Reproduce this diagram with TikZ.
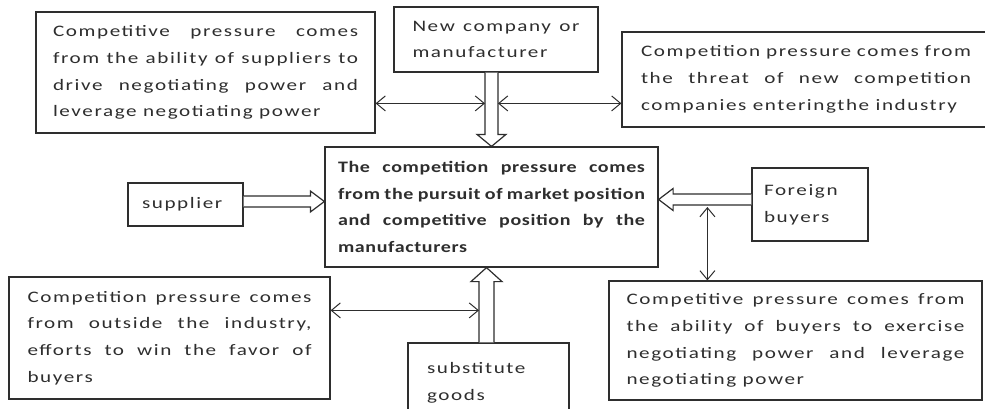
\documentclass[tikz,border=0pt]{standalone}
\usepackage{fontspec}
\usetikzlibrary{arrows.meta,calc}

\definecolor{ink}{HTML}{2E2E2E}

% wide, slightly tracked Calibri-like faces
\newfontfamily\bodyfam[FakeStretch=1.32,LetterSpace=10]{Carlito}
\newfontfamily\leadfam[FakeStretch=1.25,LetterSpace=4]{Carlito}
\newcommand\bodyfont{\bodyfam\fontsize{16}{26.7}\selectfont}
\newcommand\leadfont{\leadfam\bfseries\fontsize{16}{26.5}\selectfont}
% a line spread out to the full text width
\newcommand\spread[1]{\makebox[\hsize][s]{\spaceskip=0pt\relax\xspaceskip=0pt\relax #1}}

\tikzset{
  box/.style={draw=ink, line width=1.2pt, fill=white, inner sep=0pt,
              text=ink, font=\bodyfont, align=flush left},
  lead/.style={box, font=\leadfont},
  dbl/.style={draw=ink, line width=1pt,
              {Straight Barb[length=9pt,width=15pt]}-{Straight Barb[length=9pt,width=15pt]}},
  hollow/.style={draw=ink, line width=1.2pt, fill=white, line join=miter},
}

\begin{document}
\begin{tikzpicture}[x=1pt,y=-1pt]
\useasboundingbox (0,0) rectangle (985,408);
\clip (0,0) rectangle (985,408);
\fill[white] (0,0) rectangle (985,408);

% boxes
\node[box, minimum width=339pt, minimum height=121pt, text width=305pt] (A) at (205.5,72.5)
  {\spread{Competitive pressure comes}\\
   \spread{from the ability of suppliers to}\\
   \spread{drive negotiating power and}\\
   leverage negotiating power};

\node[box, minimum width=204pt, minimum height=65pt, text width=167pt] (B) at (496,39.5)
  {\spread{New company or}\\ manufacturer};

\node[box, minimum width=368pt, minimum height=95pt, text width=330pt] (C) at (806,79.5)
  {\spread{Competition pressure comes from}\\
   \spread{the threat of new competition}\\
   companies enteringthe industry};

\node[lead, minimum width=333pt, minimum height=120pt, text width=307pt] (D) at (491.5,207)
  {\spread{The competition pressure comes}\\
   \spread{from the pursuit of market position}\\
   \spread{and competitive position by the}\\
   manufacturers};

\node[box, minimum width=115pt, minimum height=43pt, text width=87pt] (E) at (185.5,204.5)
  {supplier};

\node[box, minimum width=116pt, minimum height=73pt, text width=92pt] (F) at (810,204.5)
  {Foreign\\ buyers};

\node[box, minimum width=321pt, minimum height=122pt, text width=284pt] (G) at (169.5,338)
  {\spread{Competition pressure comes}\\
   \spread{from outside the industry,}\\
   \spread{efforts to win the favor of}\\
   buyers};

\node[box, minimum width=161pt, minimum height=80pt, text width=123pt] (H) at (488.5,383)
  {substitute\\ goods};

\node[box, minimum width=373pt, minimum height=119pt, text width=338pt] (I) at (795.5,340.5)
  {\spread{Competitive pressure comes from}\\
   \spread{the ability of buyers to exercise}\\
   \spread{negotiating power and leverage}\\
   negotiating power};

% hollow block arrows into the central box
\draw[hollow] let \p1=(B.south), \p2=(D.north) in
  (\x2-6.5pt,\y1) -- (\x2-6.5pt,\y2+12pt) -- (\x2-14.5pt,\y2+12pt) -- (\x2,\y2)
  -- (\x2+14.5pt,\y2+12pt) -- (\x2+6.5pt,\y2+12pt) -- (\x2+6.5pt,\y1);

\draw[hollow] let \p1=($(H.north)+(-2,0)$), \p2=(D.south) in
  (\x1-7.5pt,\y1) -- (\x1-7.5pt,\y2-14pt) -- (\x1-15.5pt,\y2-14pt) -- (\x1,\y2)
  -- (\x1+15.5pt,\y2-14pt) -- (\x1+7.5pt,\y2-14pt) -- (\x1+7.5pt,\y1);

\draw[hollow] let \p1=($(E.east)+(0,-3)$), \p2=(D.west) in
  (\x1,\y1+5.5pt) -- (\x2-14pt,\y1+5.5pt) -- (\x2-14pt,\y1+10.5pt) -- (\x2,\y1)
  -- (\x2-14pt,\y1-10.5pt) -- (\x2-14pt,\y1-5.5pt) -- (\x1,\y1-5.5pt);

\draw[hollow] let \p1=($(F.west)+(0,-5)$), \p2=(D.east) in
  (\x1,\y1+5.5pt) -- (\x2+14.5pt,\y1+5.5pt) -- (\x2+14.5pt,\y1+11pt) -- (\x2,\y1)
  -- (\x2+14.5pt,\y1-11pt) -- (\x2+14.5pt,\y1-5.5pt) -- (\x1,\y1-5.5pt);

% ends of the thin two-way arrows on the block arrows
\coordinate (nl) at ($(D.north)+(-6.5,-43)$);
\coordinate (nr) at ($(D.north)+(6.5,-43)$);
\coordinate (sl) at ($(H.north)+(-9.5,-32)$);
\coordinate (fb) at ($(F.west)+(-44,2.5)$);

% thin two-way arrows
\draw[dbl] (A.east |- nl) -- (nl);
\draw[dbl] (nr) -- (C.west |- nr);
\draw[dbl] (G.east |- sl) -- (sl);
\draw[dbl] (fb) -- (fb |- I.north);
\end{tikzpicture}
\end{document}
